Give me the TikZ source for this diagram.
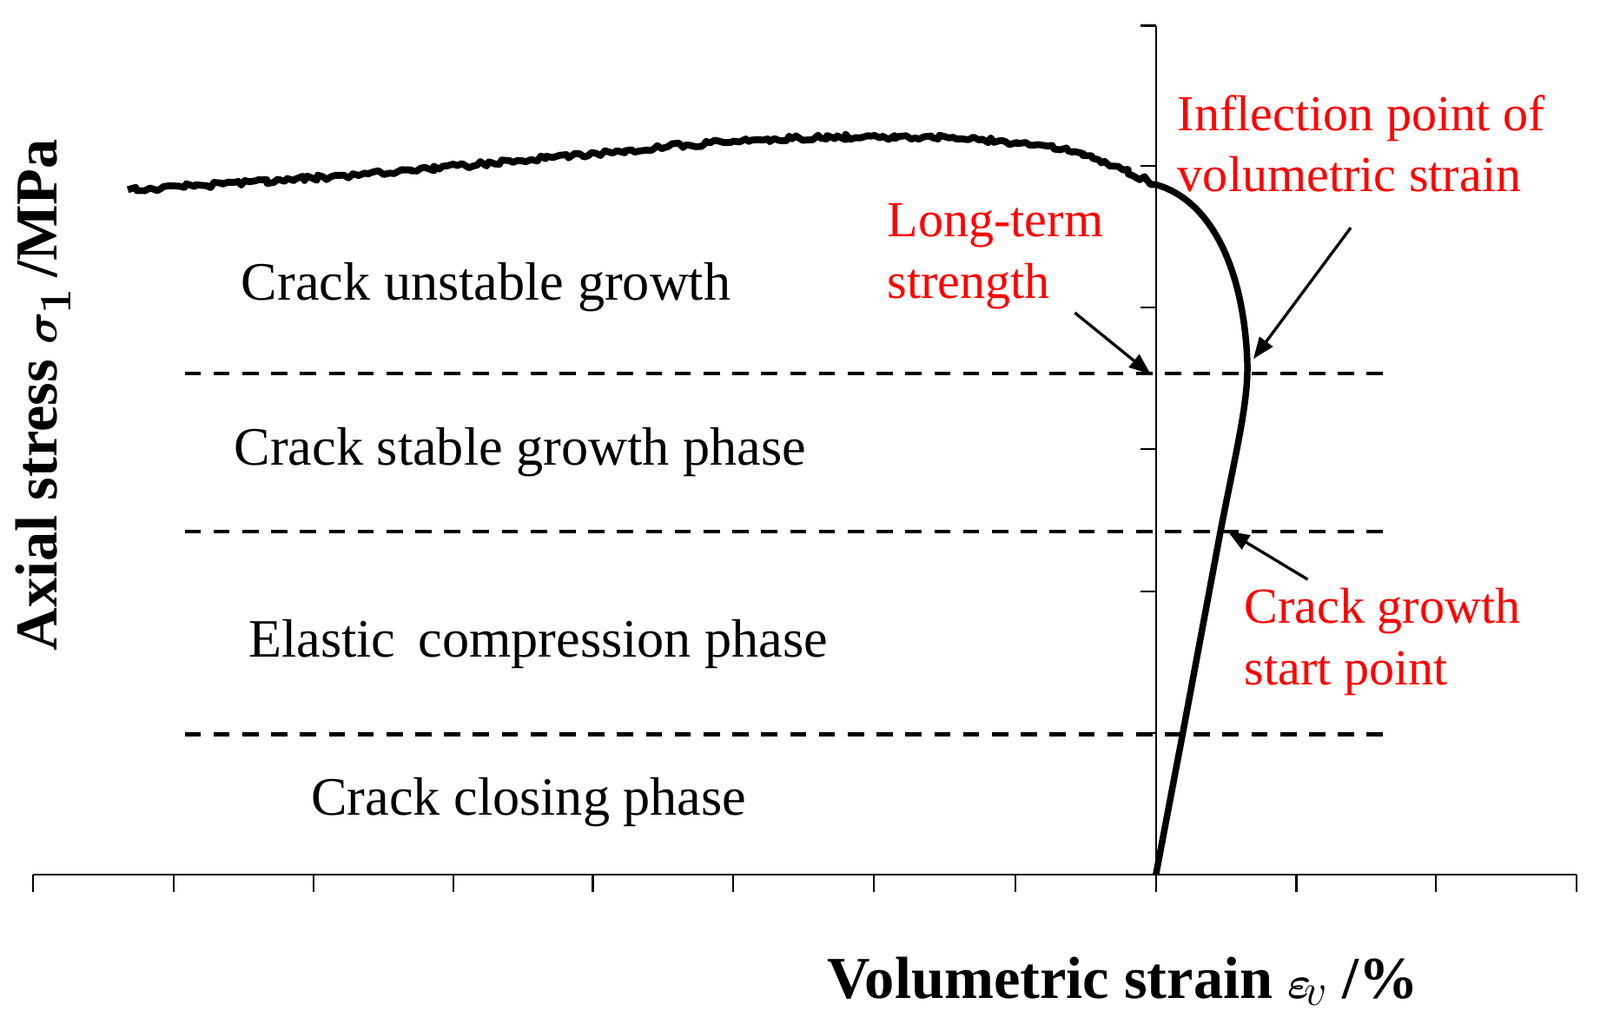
\documentclass[tikz,border=0pt]{standalone}
\usepackage{amsmath,amssymb,bm}
\usepackage{fontspec}
\setmainfont{Liberation Serif}
\usetikzlibrary{decorations.pathmorphing,arrows.meta}
\begin{document}
\begin{tikzpicture}[x=0.02cm,y=-0.02cm,
  ph/.style={font=\fontsize{30}{33}\selectfont,anchor=west,inner sep=0pt},
  rd/.style={font=\fontsize{28}{34}\selectfont,text=red,anchor=west,align=left,inner sep=0pt},
  dsh/.style={line width=2pt,dash pattern=on 9pt off 7pt},
  ar/.style={-{Triangle[length=12pt,width=9pt]},line width=1.6pt}]
\useasboundingbox (0,0) rectangle (1560,998);
% axes
\draw[line width=1pt] (32,853) -- (1537,853);
\foreach \x in {32,169,306,442,578,715,852,990,1127,1264,1400,1537} \draw[line width=1pt] (\x,853) -- (\x,870);
\draw[line width=1pt] (1127,25) -- (1127,853);
\foreach \y in {25,162,300,438,577,715} \draw[line width=1pt] (1127,\y) -- (1112,\y);
% dashed
\draw[dsh] (180,364) -- (1357,364);
\draw[dsh] (180,518) -- (1357,518);
\draw[dsh] (180,716) -- (1357,716);
% curve
\draw[line width=3.6pt,line join=round] (1127,853) -- (1153,716) -- (1190,518) .. controls (1205,440) and (1218,390) .. (1216,350) .. controls (1212,260) and (1180,195) .. (1127,180);
\draw[line width=3.8pt,line join=round,decorate,decoration={random steps,segment length=2.5pt,amplitude=1.5pt}] (1127,180) .. controls (1080,158) and (1060,145) .. (980,138) .. controls (880,130) and (750,132) .. (600,148) .. controls (450,162) and (300,176) .. (125,185);
% labels
\node[ph] at (235,280) {Crack unstable growth};
\node[ph] at (228,441) {Crack stable growth phase};
\node[ph] at (242,628) {Elastic\, compression phase};
\node[ph] at (303,782) {Crack closing phase};
\node[rd] (inf) at (1148,140) {Inflection point of\\volumetric strain};
\node[rd] (lt) at (865,250) {Long-term\\strength};
\node[rd] (cg) at (1213,626) {Crack growth\\start point};
\coordinate (a1) at (1048,305); \coordinate (b1) at (1122,365);
\coordinate (a2) at (1317,222); \coordinate (b2) at (1222,350);
\coordinate (a3) at (1275,565); \coordinate (b3) at (1197,518);
\draw[ar] (a1) -- (b1);
\draw[ar] (a2) -- (b2);
\draw[ar] (a3) -- (b3);
\node[font=\bfseries\fontsize{33}{36}\selectfont] (xl) at (1095,957) {Volumetric strain $\bm{\varepsilon}_{\!v}$ /\%};
\node[font=\bfseries\fontsize{33}{36}\selectfont,rotate=90] (yl) at (42,385) {Axial stress $\bm{\sigma}_{\bm{1}}$\,/MPa};
\end{tikzpicture}
\end{document}
